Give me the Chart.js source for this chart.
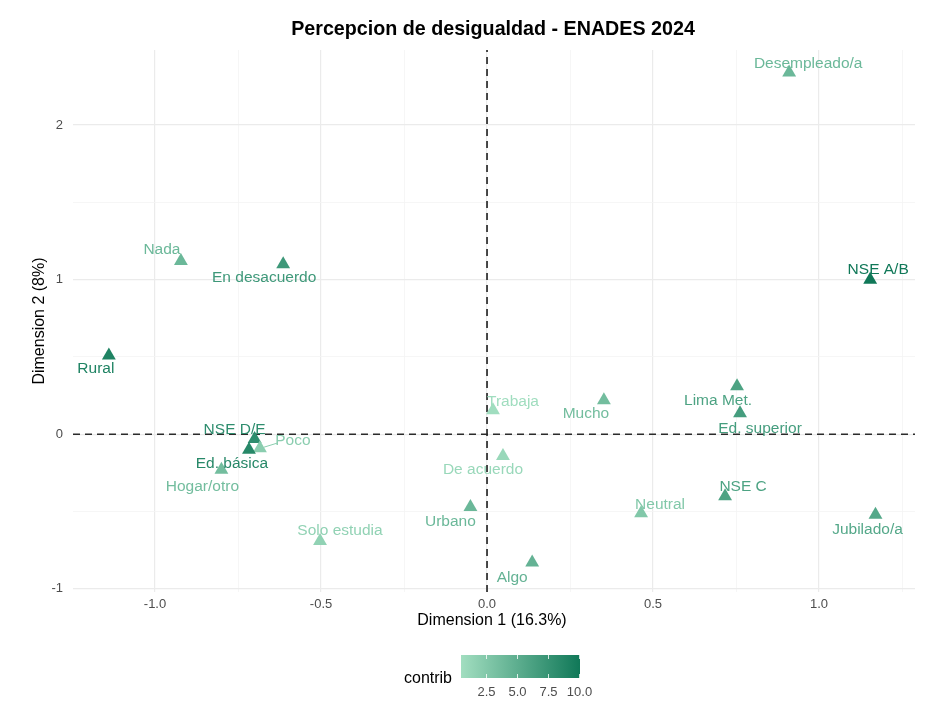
<!DOCTYPE html>
<html>
<head>
<meta charset="utf-8">
<script src="https://cdn.jsdelivr.net/npm/chart.js@4"></script>
<style>
  html, body { margin: 0; padding: 0; background: #fff; }
  #wrap { width: 946px; height: 721px; }
</style>
</head>
<body>
<div id="wrap"><canvas id="mca"></canvas></div>
<script>
// MCA category coordinates
const categories = ['Desempleado/a', 'NSE A/B', 'Nada', 'En desacuerdo', 'Rural', 'Trabaja', 'Mucho',
  'Lima Met.', 'Ed. superior', 'NSE D/E', 'Poco', 'Ed. básica', 'Hogar/otro', 'De acuerdo',
  'Urbano', 'Solo estudia', 'Algo', 'Neutral', 'NSE C', 'Jubilado/a'];
const dim1    = [0.91, 1.154, -0.922, -0.614, -1.139, 0.018, 0.352, 0.753, 0.762, -0.70, -0.684, -0.717, -0.80, 0.048, -0.05, -0.503, 0.136, 0.464, 0.717, 1.17];
const dim2    = [2.34, 1.00, 1.12, 1.10, 0.51, 0.155, 0.22, 0.31, 0.136, -0.03, -0.09, -0.10, -0.23, -0.14, -0.47, -0.69, -0.83, -0.51, -0.40, -0.52];
const contrib = [4, 10, 4, 7, 9, 0.5, 3.5, 6, 6.5, 8, 2, 8.5, 3.5, 1, 4, 1.5, 4.5, 2.5, 6, 5.5];

const xTicks = [-1.0, -0.5, 0.0, 0.5, 1.0];
const yTicks = [-1, 0, 1, 2];
const legendTicks = [2.5, 5.0, 7.5, 10.0];

// Label nudges (px) — mimic ggrepel placement
const labelOffsets = [[19,-9],[8,-10],[-19,-11],[-19,14],[-13,13],[20,-9],[-18,13],[-19,14],[20,15],[-20,-9],
  [33,-7],[-17,14],[-19,17],[-20,14],[-20,15],[20,-10],[-20,15],[19,-8],[18,-9],[-8,15]];

const X_MIN = -1.247, X_MAX = 1.289, Y_MIN = -1.02, Y_MAX = 2.485;
const C_MIN = 0.4, C_MAX = 10;
const LOW = [162, 222, 192], HIGH = [16, 120, 88];
const FONT = '"Liberation Sans", Arial, Helvetica, sans-serif';

function contribColor(v) {
  const t = Math.max(0, Math.min(1, (v - C_MIN) / (C_MAX - C_MIN)));
  const c = LOW.map((l, i) => Math.round(l + (HIGH[i] - l) * t));
  return `rgb(${c[0]},${c[1]},${c[2]})`;
}

const pointColors = contrib.map(contribColor);

// Text labels, titles and the colourbar legend
const decorPlugin = {
  id: 'decor',
  afterDatasetsDraw(chart) {
    const ctx = chart.ctx;
    const meta = chart.getDatasetMeta(0);
    ctx.save();
    ctx.font = `15.5px ${FONT}`;
    ctx.textAlign = 'center';
    ctx.textBaseline = 'middle';
    meta.data.forEach((pt, i) => {
      const [dx, dy] = labelOffsets[i];
      const lx = pt.x + dx, ly = pt.y + dy;
      if (categories[i] === 'Poco') {
        ctx.strokeStyle = pointColors[i];
        ctx.lineWidth = 1;
        ctx.beginPath();
        ctx.moveTo(pt.x + 4, pt.y - 1);
        ctx.lineTo(lx - 16, ly + 2);
        ctx.stroke();
      }
      ctx.fillStyle = pointColors[i];
      ctx.fillText(categories[i], lx, ly);
    });
    ctx.restore();
  },
  afterDraw(chart) {
    const ctx = chart.ctx;
    const a = chart.chartArea;
    ctx.save();
    ctx.fillStyle = '#000';
    ctx.textAlign = 'center';
    ctx.textBaseline = 'middle';
    ctx.font = `bold 19.7px ${FONT}`;
    ctx.fillText('Percepcion de desigualdad - ENADES 2024', 493, 30);

    ctx.font = `16px ${FONT}`;
    ctx.fillText('Dimension 1 (16.3%)', 492, 621);
    ctx.save();
    ctx.translate(40, (a.top + a.bottom) / 2);
    ctx.rotate(-Math.PI / 2);
    ctx.fillText('Dimension 2 (8%)', 0, 0);
    ctx.restore();

    // colourbar
    const bx = 461, by = 655, bw = 119, bh = 23;
    const g = ctx.createLinearGradient(bx, 0, bx + bw, 0);
    g.addColorStop(0, contribColor(C_MIN));
    g.addColorStop(1, contribColor(C_MAX));
    ctx.fillStyle = g;
    ctx.fillRect(bx, by, bw, bh);
    ctx.strokeStyle = 'rgba(255,255,255,0.8)';
    ctx.lineWidth = 1;
    ctx.fillStyle = '#4d4d4d';
    ctx.font = `13px ${FONT}`;
    legendTicks.forEach(v => {
      const tx = Math.round(bx + (v - C_MIN) / (C_MAX - C_MIN) * bw) - 0.5;
      ctx.beginPath();
      ctx.moveTo(tx, by); ctx.lineTo(tx, by + 4);
      ctx.moveTo(tx, by + bh - 4); ctx.lineTo(tx, by + bh);
      ctx.stroke();
      ctx.fillText(v.toFixed(1), tx, 692);
    });
    ctx.fillStyle = '#000';
    ctx.font = `16px ${FONT}`;
    ctx.textAlign = 'right';
    ctx.fillText('contrib', 452, 679);
    ctx.restore();
  }
};

const isMajor = (v, majors) => majors.some(m => Math.abs(m - v) < 1e-6);

new Chart(document.getElementById('mca'), {
  type: 'scatter',
  data: {
    datasets: [
      {
        label: 'categorias',
        data: dim1.map((x, i) => ({ x, y: dim2[i] })),
        pointStyle: 'triangle',
        pointRadius: 8,
        pointHoverRadius: 8,
        backgroundColor: pointColors,
        borderColor: pointColors,
        borderWidth: 0
      },
      {
        label: 'h0',
        type: 'line',
        data: [{ x: X_MIN, y: 0 }, { x: X_MAX, y: 0 }],
        borderColor: '#2b2b2b',
        borderWidth: 1.7,
        borderDash: [7, 5],
        pointRadius: 0,
        fill: false
      },
      {
        label: 'v0',
        type: 'line',
        data: [{ x: 0, y: Y_MIN }, { x: 0, y: Y_MAX }],
        borderColor: '#2b2b2b',
        borderWidth: 1.7,
        borderDash: [7, 5],
        pointRadius: 0,
        fill: false
      }
    ]
  },
  options: {
    responsive: true,
    maintainAspectRatio: false,
    animation: false,
    layout: { padding: { left: 0, right: 31, top: 50, bottom: 0 } },
    plugins: { legend: { display: false }, tooltip: { enabled: false } },
    scales: {
      x: {
        type: 'linear',
        min: X_MIN, max: X_MAX,
        border: { display: false },
        afterFit: s => { s.height = 129; },
        grid: {
          drawTicks: false,
          color: c => isMajor(c.tick.value, xTicks) ? '#ebebeb' : '#f4f4f4',
          lineWidth: c => isMajor(c.tick.value, xTicks) ? 1.2 : 0.8
        },
        ticks: {
          stepSize: 0.25,
          includeBounds: false,
          autoSkip: false,
          maxRotation: 0,
          padding: 5,
          color: '#4d4d4d',
          font: { family: FONT, size: 13 },
          callback: v => isMajor(v, xTicks) ? v.toFixed(1) : ''
        }
      },
      y: {
        type: 'linear',
        min: Y_MIN, max: Y_MAX,
        border: { display: false },
        afterFit: s => { s.width = 73; },
        grid: {
          drawTicks: false,
          color: c => isMajor(c.tick.value, yTicks) ? '#ebebeb' : '#f4f4f4',
          lineWidth: c => isMajor(c.tick.value, yTicks) ? 1.2 : 0.8
        },
        ticks: {
          stepSize: 0.5,
          includeBounds: false,
          autoSkip: false,
          padding: 10,
          color: '#4d4d4d',
          font: { family: FONT, size: 13 },
          callback: v => isMajor(v, yTicks) ? String(v) : ''
        }
      }
    }
  },
  plugins: [decorPlugin]
});
</script>
</body>
</html>
